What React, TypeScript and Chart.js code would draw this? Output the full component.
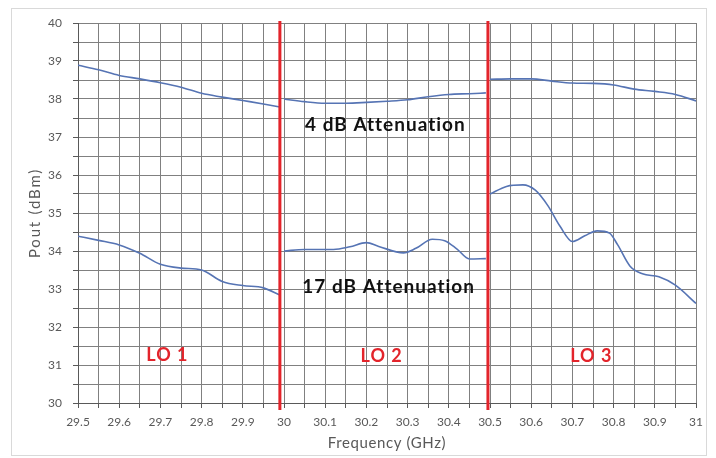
import React, { useEffect, useRef } from "react";
import { Chart, registerables } from "chart.js";

Chart.register(...registerables);

// 4 dB attenuation curves (three LO bands)
const hiLo1Freq = [29.5, 29.55, 29.6, 29.65, 29.7, 29.75, 29.8, 29.85, 29.9, 29.95, 29.99];
const hiLo1Pout = [38.89, 38.77, 38.62, 38.53, 38.43, 38.31, 38.15, 38.05, 37.96, 37.87, 37.79];
const hiLo2Freq = [30.0, 30.05, 30.1, 30.15, 30.2, 30.25, 30.3, 30.35, 30.4, 30.45, 30.49];
const hiLo2Pout = [38.0, 37.93, 37.89, 37.89, 37.91, 37.94, 37.98, 38.06, 38.12, 38.14, 38.16];
const hiLo3Freq = [30.5, 30.55, 30.6, 30.65, 30.7, 30.75, 30.8, 30.85, 30.9, 30.95, 31.0];
const hiLo3Pout = [38.52, 38.53, 38.53, 38.47, 38.42, 38.41, 38.37, 38.26, 38.2, 38.12, 37.95];

// 17 dB attenuation curves (three LO bands)
const loLo1Freq = [29.5, 29.55, 29.6, 29.65, 29.7, 29.75, 29.8, 29.85, 29.9, 29.95, 29.99];
const loLo1Pout = [34.39, 34.28, 34.16, 33.94, 33.65, 33.55, 33.5, 33.2, 33.09, 33.03, 32.84];
const loLo2Freq = [30.0, 30.05, 30.12, 30.16, 30.2, 30.23, 30.29, 30.32, 30.36, 30.39, 30.42, 30.45, 30.49];
const loLo2Pout = [34.0, 34.04, 34.04, 34.11, 34.22, 34.12, 33.95, 34.07, 34.31, 34.27, 34.05, 33.79, 33.8];
const loLo3Freq = [30.5, 30.54, 30.58, 30.61, 30.64, 30.67, 30.7, 30.73, 30.76, 30.79, 30.81, 30.84, 30.87, 30.91, 30.95, 31.0];
const loLo3Pout = [35.5, 35.7, 35.74, 35.6, 35.2, 34.65, 34.25, 34.4, 34.53, 34.47, 34.16, 33.6, 33.4, 33.32, 33.1, 32.62];

// Band boundaries (red lines)
const bandEdges = [29.99, 30.495];

// Text labels
const xTitle = "Frequency (GHz)";
const yTitle = "Pout (dBm)";
const attenLabels = ["4 dB Attenuation", "17 dB Attenuation"];
const attenLabelPos = [
  [30.246, 37.32],
  [30.254, 33.05],
];
const loLabels = ["LO 1", "LO 2", "LO 3"];
const loLabelPos = [
  [29.717, 31.26],
  [30.237, 31.24],
  [30.746, 31.24],
];

const LINE_COLOR = "#5674b4";
const RED = "#e3242b";
const FONT = "Lato, 'Open Sans', sans-serif";

function pts(xs: number[], ys: number[]) {
  return xs.map((x, i) => ({ x, y: ys[i] }));
}

const overlayPlugin = {
  id: "overlay",
  beforeDraw(chart: any) {
    const { ctx } = chart;
    ctx.save();
    ctx.fillStyle = "#ffffff";
    ctx.fillRect(0, 0, chart.width, chart.height);
    ctx.strokeStyle = "#d9d9d9";
    ctx.lineWidth = 1;
    ctx.strokeRect(11.5, 8.5, 695, 447);
    ctx.restore();
  },
  afterDatasetsDraw(chart: any) {
    const { ctx, chartArea } = chart;
    const xs = chart.scales.x;
    const ys = chart.scales.y;
    ctx.save();
    ctx.strokeStyle = RED;
    ctx.lineWidth = 3;
    bandEdges.forEach((f) => {
      const px = xs.getPixelForValue(f);
      ctx.beginPath();
      ctx.moveTo(px, chartArea.top - 2);
      ctx.lineTo(px, chartArea.bottom + 7);
      ctx.stroke();
    });
    ctx.textAlign = "center";
    ctx.textBaseline = "middle";
    (ctx as any).letterSpacing = "1px";
    ctx.font = `bold 19px ${FONT}`;
    ctx.fillStyle = "#111111";
    attenLabels.forEach((t, i) => {
      ctx.fillText(t, xs.getPixelForValue(attenLabelPos[i][0]), ys.getPixelForValue(attenLabelPos[i][1]));
    });
    ctx.font = `bold 18px ${FONT}`;
    ctx.fillStyle = RED;
    loLabels.forEach((t, i) => {
      ctx.fillText(t, xs.getPixelForValue(loLabelPos[i][0]), ys.getPixelForValue(loLabelPos[i][1]));
    });
    // axis titles
    ctx.fillStyle = "#595959";
    ctx.font = `15px ${FONT}`;
    (ctx as any).letterSpacing = "0.6px";
    ctx.fillText(xTitle, (chartArea.left + chartArea.right) / 2, chartArea.bottom + 40);
    ctx.save();
    ctx.translate(chartArea.left - 43, (chartArea.top + chartArea.bottom) / 2);
    ctx.rotate(-Math.PI / 2);
    (ctx as any).letterSpacing = "1.8px";
    ctx.fillText(yTitle, 0, 0);
    ctx.restore();
    ctx.restore();
  },
};

export default function App() {
  const ref = useRef<HTMLCanvasElement | null>(null);
  useEffect(() => {
    if (!ref.current) return;
    const mk = (xs: number[], ys: number[]) => ({
      data: pts(xs, ys),
      borderColor: LINE_COLOR,
      backgroundColor: LINE_COLOR,
      borderWidth: 1.6,
      pointRadius: 0,
      tension: 0.4,
      cubicInterpolationMode: "monotone" as const,
      fill: false,
    });
    const chart = new Chart(ref.current, {
      type: "line",
      data: {
        datasets: [
          mk(hiLo1Freq, hiLo1Pout),
          mk(hiLo2Freq, hiLo2Pout),
          mk(hiLo3Freq, hiLo3Pout),
          mk(loLo1Freq, loLo1Pout),
          mk(loLo2Freq, loLo2Pout),
          mk(loLo3Freq, loLo3Pout),
        ] as any,
      },
      options: {
        animation: false,
        responsive: true,
        maintainAspectRatio: false,
        layout: { padding: { left: 0, right: 20, top: 23, bottom: 0 } },
        plugins: { legend: { display: false }, tooltip: { enabled: false } },
        scales: {
          x: {
            type: "linear",
            min: 29.5,
            max: 31,
            afterFit: (s: any) => {
              s.height = 55;
            },
            ticks: {
              stepSize: 0.05,
              autoSkip: false,
              maxRotation: 0,
              padding: 7,
              color: "#595959",
              font: { family: FONT, size: 12 },
              callback: (v: any) => {
                const n = Math.round(Number(v) * 100);
                if (n % 10 !== 0) return "";
                return String(Math.round(n) / 100);
              },
            },
            grid: { color: "#808080", lineWidth: 1, tickLength: 5, tickColor: "#595959" },
            border: { color: "#595959", width: 1 },
            title: { display: false },
          },
          y: {
            type: "linear",
            min: 30,
            max: 40,
            afterFit: (s: any) => {
              s.width = 78;
            },
            ticks: {
              stepSize: 0.5,
              autoSkip: false,
              padding: 11,
              color: "#595959",
              font: { family: FONT, size: 12 },
              callback: (v: any) => {
                const n = Number(v);
                return Math.abs(n - Math.round(n)) < 1e-6 ? String(Math.round(n)) : "";
              },
            },
            grid: { color: "#808080", lineWidth: 1, tickLength: 5, tickColor: "#595959" },
            border: { color: "#595959", width: 1 },
            title: { display: false },
          },
        },
      },
      plugins: [overlayPlugin],
    });
    return () => chart.destroy();
  }, []);
  return (
    <div style={{ position: "absolute", left: 0, top: 0, width: 716, height: 458, background: "#fff" }}>
      <canvas ref={ref} />
    </div>
  );
}
